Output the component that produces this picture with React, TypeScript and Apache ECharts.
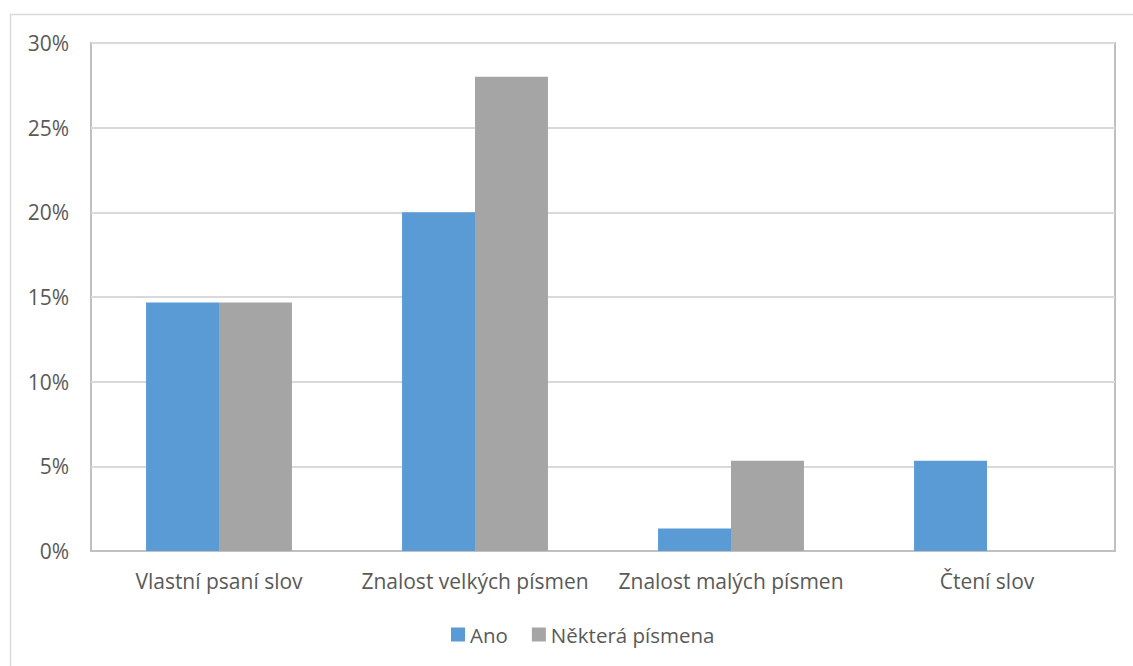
import React, { useEffect, useRef } from "react";
import * as echarts from "echarts";

const categories = [
  "Vlastní psaní slov",
  "Znalost velkých písmen",
  "Znalost malých písmen",
  "Čtení slov",
];
const seriesNames = ["Ano", "Některá písmena"];
const anoValues = [14.67, 20.0, 1.33, 5.33];
const nekteraValues = [14.67, 28.0, 5.33, 0];
const colors = ["#5b9bd5", "#a5a5a5"];

export default function App() {
  const ref = useRef<HTMLDivElement>(null);
  useEffect(() => {
    if (!ref.current) return;
    const chart = echarts.init(ref.current, undefined, { renderer: "svg" });
    const font = "'Open Sans', 'Noto Sans', sans-serif";
    chart.setOption({
      animation: false,
      textStyle: { fontFamily: font },
      graphic: [
        {
          type: "rect",
          shape: { x: 10.5, y: 14.5, width: 1140, height: 700 },
          style: { fill: "none", stroke: "#d9d9d9", lineWidth: 1.5 },
        },
      ],
      grid: {
        left: 91,
        top: 43,
        right: 18,
        bottom: 115,
        show: true,
        borderColor: "#c0c0c0",
        borderWidth: 2,
        containLabel: false,
      },
      legend: {
        data: seriesNames,
        bottom: 16,
        left: 446,
        icon: "rect",
        itemWidth: 14,
        itemHeight: 14,
        itemGap: 24,
        textStyle: { fontSize: 20.5, color: "#595959", fontFamily: font },
      },
      xAxis: {
        type: "category",
        data: categories,
        axisTick: { show: false },
        axisLine: { show: true, lineStyle: { color: "#c0c0c0", width: 2 } },
        axisLabel: {
          interval: 0,
          hideOverlap: false,
          fontSize: 21,
          color: "#595959",
          margin: 19,
          fontFamily: font,
        },
      },
      yAxis: {
        type: "value",
        min: 0,
        max: 30,
        interval: 5,
        axisLabel: {
          formatter: "{value}%",
          fontSize: 21,
          color: "#595959",
          margin: 22,
          fontFamily: font,
        },
        axisLine: { show: false },
        axisTick: { show: false },
        splitLine: { lineStyle: { color: "#d9d9d9", width: 2 } },
      },
      series: [
        {
          name: seriesNames[0],
          type: "bar",
          data: anoValues,
          itemStyle: { color: colors[0] },
          barGap: "0%",
          barCategoryGap: "43%",
        },
        {
          name: seriesNames[1],
          type: "bar",
          data: nekteraValues,
          itemStyle: { color: colors[1] },
          barGap: "0%",
          barCategoryGap: "43%",
        },
      ],
    });
    return () => chart.dispose();
  }, []);
  return (
    <div
      ref={ref}
      style={{ position: "fixed", left: 0, top: 0, width: 1133, height: 666, background: "#fff" }}
    />
  );
}
